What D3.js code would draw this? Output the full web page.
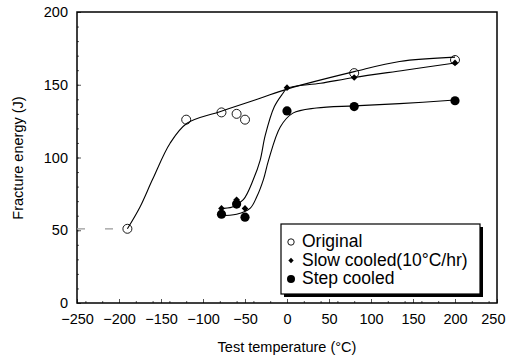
<!DOCTYPE html>
<html><head><meta charset="utf-8">
<script src="https://cdn.jsdelivr.net/npm/d3@7"></script>
<style>
html,body{margin:0;padding:0;background:#fff;}
svg{display:block;}
text{font-family:"Liberation Sans",Arial,Helvetica,sans-serif;fill:#000;}
</style></head>
<body>
<svg id="chart" width="507" height="357"></svg>
<script>
// Measured data points
const origX = [-190, -120, -78, -60, -50, 80, 200];
const origY = [51, 126, 131, 130, 126, 158, 167];
const slowX = [-78, -60, -50, 0, 80, 200];
const slowY = [65, 71, 65, 148, 155, 165];
const stepX = [-78, -60, -50, 0, 80, 200];
const stepY = [61, 68, 59, 132, 135, 139];

// Fitted curves
const origFitX = [-190, -175, -160, -139, -119, -80, -32, 0, 80, 134, 200];
const origFitY = [51, 66, 85, 110, 123.5, 131.5, 140.7, 147, 159, 166, 169];
const origTailX = [-250, -205];
const origTailY = [51, 51];
const slowFitX = [-80, -65, -52, -40, -32, -26, -15, -5, 0, 40, 80, 140, 200];
const slowFitY = [65, 66, 71, 85, 98, 115, 135, 144, 147.5, 151, 155, 160, 165];
const stepFitX = [-80, -60, -44, -36, -28, -22, -8, 7, 35, 80, 134, 200];
const stepFitY = [60, 61, 65, 73, 85, 98, 121, 130.5, 134, 135.5, 137, 139.5];

const xTicks = [-250, -200, -150, -100, -50, 0, 50, 100, 150, 200, 250];
const yTicks = [0, 50, 100, 150, 200];
const legendLabels = ["Original", "Slow cooled(10\u00B0C/hr)", "Step cooled"];

const svg = d3.select("#chart");
const x = d3.scaleLinear().domain([-250, 250]).range([77, 497]);
const y = d3.scaleLinear().domain([0, 200]).range([303, 12]);

// axes
const gx = svg.append("g").attr("transform", "translate(0,303)")
  .call(d3.axisBottom(x).tickValues(xTicks).tickSize(-4).tickPadding(11).tickFormat(d3.format("d")));
const gxm = svg.append("g").attr("transform", "translate(0,303)")
  .call(d3.axisBottom(x).ticks(20).tickSize(-2).tickFormat(""));
const gy = svg.append("g").attr("transform", "translate(77,0)")
  .call(d3.axisLeft(y).tickValues(yTicks).tickSize(-4).tickPadding(9).tickFormat(d3.format("d")));
const gym = svg.append("g").attr("transform", "translate(77,0)")
  .call(d3.axisLeft(y).ticks(20).tickSize(-2).tickFormat(""));
[gx, gxm, gy, gym].forEach(g => {
  g.select(".domain").remove();
  g.selectAll(".tick line").attr("stroke", "#555");
  g.selectAll("text").attr("font-size", 14.5).attr("font-family", "Liberation Sans, Arial, sans-serif").attr("fill", "#000");
});
// keep the last x label inside the picture
gx.selectAll(".tick text").filter(d => d === 250).attr("text-anchor", "end").attr("dx", "8");

// frame
svg.append("rect").attr("x", 77).attr("y", 12).attr("width", 420).attr("height", 291)
  .attr("fill", "none").attr("stroke", "#000").attr("stroke-width", 1.5);

// axis titles
svg.append("text").attr("x", 287).attr("y", 352).attr("text-anchor", "middle")
  .attr("font-size", 14.5).text("Test temperature (\u00B0C)");
svg.append("text").attr("transform", "translate(23,158) rotate(-90)").attr("text-anchor", "middle")
  .attr("font-size", 14.5).text("Fracture energy (J)");

// curves
const line = d3.line().x(d => x(d[0])).y(d => y(d[1])).curve(d3.curveCatmullRom.alpha(0.5));
const zip = (a, b) => a.map((v, i) => [v, b[i]]);
svg.append("path").datum(zip(origTailX, origTailY)).attr("d", line)
  .attr("fill", "none").attr("stroke", "#999").attr("stroke-width", 1.2).attr("stroke-dasharray", "8,20");
[[origFitX, origFitY], [slowFitX, slowFitY], [stepFitX, stepFitY]].forEach(([a, b]) => {
  svg.append("path").datum(zip(a, b)).attr("d", line)
    .attr("fill", "none").attr("stroke", "#000").attr("stroke-width", 1.1);
});

// markers
svg.selectAll(".orig").data(zip(origX, origY)).join("circle")
  .attr("cx", d => x(d[0])).attr("cy", d => y(d[1])).attr("r", 4.5)
  .attr("fill", "none").attr("stroke", "#000").attr("stroke-width", 0.9);
svg.selectAll(".step").data(zip(stepX, stepY)).join("circle")
  .attr("cx", d => x(d[0])).attr("cy", d => y(d[1])).attr("r", 4.6).attr("fill", "#000");
const diamond = d3.symbol().type(d3.symbolSquare).size(22);
svg.selectAll(".slow").data(zip(slowX, slowY)).join("path")
  .attr("transform", d => `translate(${x(d[0])},${y(d[1])}) rotate(45)`).attr("d", diamond).attr("fill", "#000");

// legend
const lg = svg.append("g");
lg.append("rect").attr("x", 284).attr("y", 227).attr("width", 199).attr("height", 70).attr("fill", "#000");
lg.append("rect").attr("x", 281).attr("y", 224).attr("width", 199).attr("height", 70)
  .attr("fill", "#fff").attr("stroke", "#000").attr("stroke-width", 1.2);
const rows = [247, 265.5, 284];
lg.append("circle").attr("cx", 291).attr("cy", rows[0] - 5).attr("r", 3.2)
  .attr("fill", "none").attr("stroke", "#000").attr("stroke-width", 0.9);
lg.append("path").attr("transform", `translate(291,${rows[1] - 5}) rotate(45)`)
  .attr("d", d3.symbol().type(d3.symbolSquare).size(14)).attr("fill", "#000");
lg.append("circle").attr("cx", 291).attr("cy", rows[2] - 5).attr("r", 4).attr("fill", "#000");
legendLabels.forEach((t, i) => {
  lg.append("text").attr("x", 302).attr("y", rows[i]).attr("font-size", 17.5).text(t);
});
</script>
</body></html>
